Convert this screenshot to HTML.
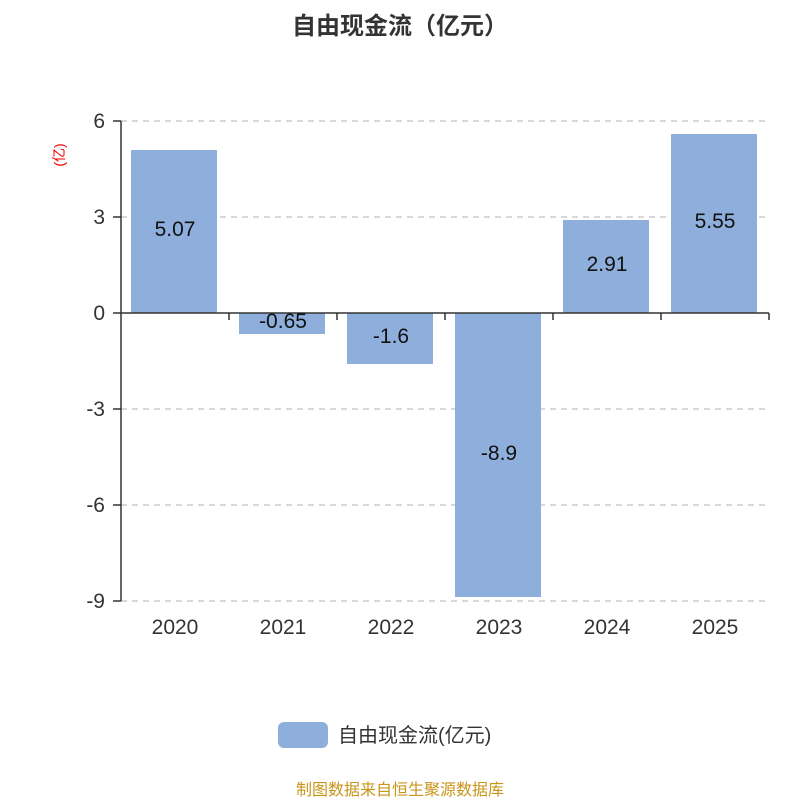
<!DOCTYPE html>
<html><head><meta charset="utf-8"><style>
body{margin:0;background:#fff;}
</style></head><body>
<svg width="800" height="800" xmlns="http://www.w3.org/2000/svg" font-family="'Liberation Sans','Noto Sans CJK SC',sans-serif">
<text x="400" y="34" text-anchor="middle" font-size="24" font-weight="bold" fill="#333">自由现金流（亿元）</text>
<text transform="translate(64,155) rotate(-90)" text-anchor="middle" font-size="14" fill="#e00">(亿)</text>
<g stroke="#ccc" stroke-width="1.5" stroke-dasharray="6,5">
<line x1="121" y1="121" x2="769" y2="121"/>
<line x1="121" y1="217" x2="769" y2="217"/>
<line x1="121" y1="409" x2="769" y2="409"/>
<line x1="121" y1="505" x2="769" y2="505"/>
<line x1="121" y1="601" x2="769" y2="601"/>
</g>
<g fill="#8eaedb">
<rect x="131" y="150" width="86" height="163"/>
<rect x="239" y="313" width="86" height="21"/>
<rect x="347" y="313" width="86" height="51"/>
<rect x="455" y="313" width="86" height="284"/>
<rect x="563" y="220" width="86" height="93"/>
<rect x="671" y="134" width="86" height="179"/>
</g>
<g stroke="#333" stroke-width="1.5">
<line x1="121" y1="121" x2="121" y2="601"/>
<line x1="121" y1="313" x2="769" y2="313"/>
<line x1="113" y1="121" x2="121" y2="121"/>
<line x1="113" y1="217" x2="121" y2="217"/>
<line x1="113" y1="313" x2="121" y2="313"/>
<line x1="113" y1="409" x2="121" y2="409"/>
<line x1="113" y1="505" x2="121" y2="505"/>
<line x1="113" y1="601" x2="121" y2="601"/>
<line x1="229" y1="313" x2="229" y2="320"/>
<line x1="337" y1="313" x2="337" y2="320"/>
<line x1="445" y1="313" x2="445" y2="320"/>
<line x1="553" y1="313" x2="553" y2="320"/>
<line x1="661" y1="313" x2="661" y2="320"/>
<line x1="769" y1="313" x2="769" y2="320"/>
</g>
<g font-size="21" fill="#333" text-anchor="end">
<text x="105" y="128">6</text><text x="105" y="224">3</text><text x="105" y="320">0</text>
<text x="105" y="416">-3</text><text x="105" y="512">-6</text><text x="105" y="608">-9</text>
</g>
<g font-size="21" fill="#333" text-anchor="middle">
<text x="175" y="634">2020</text><text x="283" y="634">2021</text><text x="391" y="634">2022</text>
<text x="499" y="634">2023</text><text x="607" y="634">2024</text><text x="715" y="634">2025</text>
</g>
<g font-size="21" fill="#111" text-anchor="middle">
<text x="175" y="236">5.07</text><text x="283" y="328">-0.65</text><text x="391" y="343">-1.6</text>
<text x="499" y="460">-8.9</text><text x="607" y="271">2.91</text><text x="715" y="228">5.55</text>
</g>
<rect x="278" y="722" width="50" height="26" rx="6" fill="#8eaedb"/>
<text x="338" y="742" font-size="20" fill="#333">自由现金流(亿元)</text>
<text x="400" y="795" text-anchor="middle" font-size="16" fill="#c8941a">制图数据来自恒生聚源数据库</text>
</svg>
</body></html>
